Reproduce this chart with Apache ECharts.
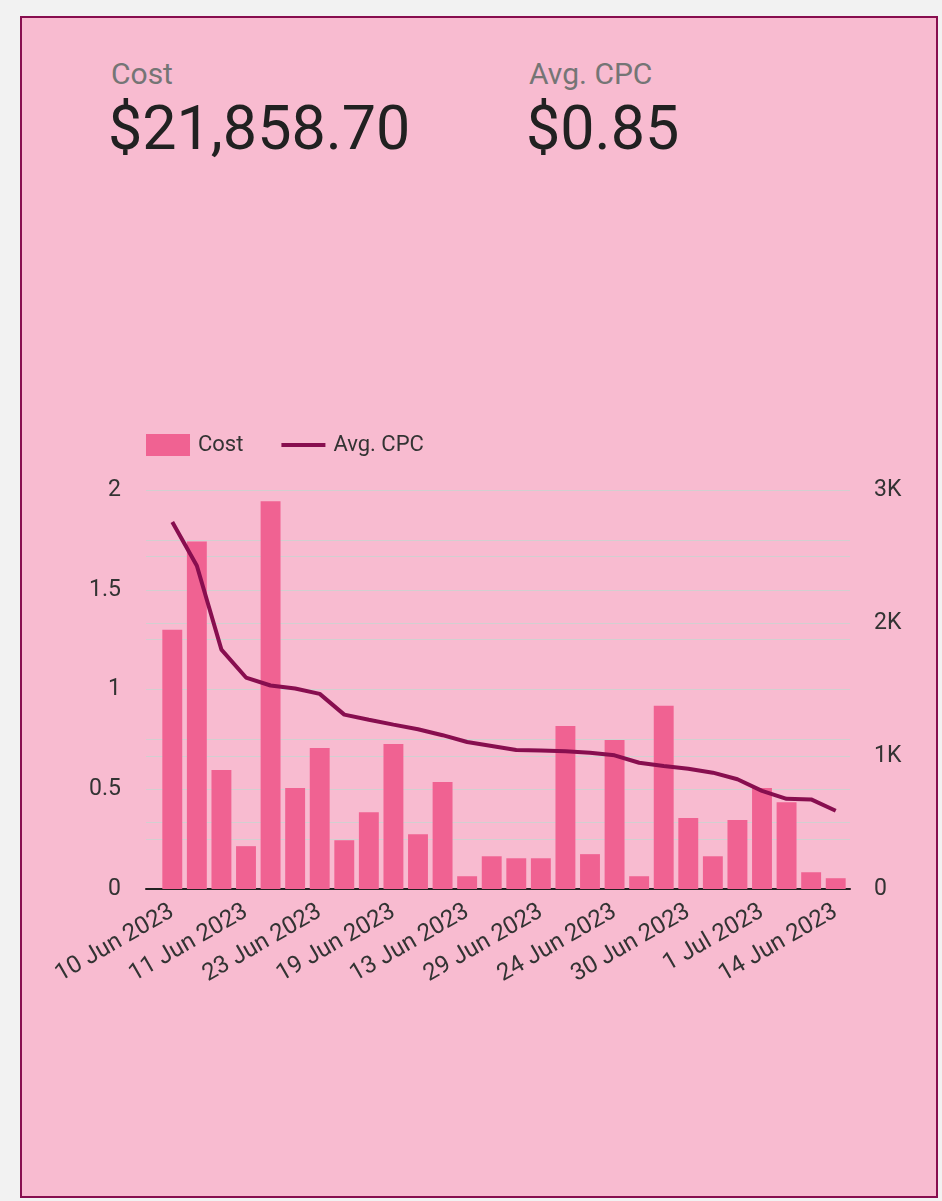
<!DOCTYPE html>
<html>
<head>
<meta charset="UTF-8"/>
<title>Cost and Avg. CPC</title>
<script src="https://cdn.jsdelivr.net/npm/echarts@6/dist/echarts.min.js"></script>
<style>
    html, body { margin: 0; padding: 0; background: #f2f2f2; font-family: Roboto, sans-serif; }
    .page { position: relative; width: 942px; height: 1201px; overflow: hidden; }
    .card { position: absolute; left: 20px; top: 16px; width: 914px; height: 1178px; background: #f8bbd0; border: 2px solid #880e4f; }
    .label { position: absolute; font-size: 30px; line-height: 1; color: #757575; white-space: nowrap; }
    .value { position: absolute; font-size: 61px; line-height: 1; color: #212121; white-space: nowrap; }
    #chart { position: absolute; left: 0; top: 0; width: 942px; height: 1201px; }
</style>
</head>
<body>
<div class="page">
    <div class="card"></div>
    <div class="label" style="left:111px;top:59px;">Cost</div>
    <div class="value" style="left:108px;top:98px;">$21,858.70</div>
    <div class="label" style="left:529px;top:59px;">Avg. CPC</div>
    <div class="value" style="left:526px;top:98px;">$0.85</div>
    <div id="chart"></div>
</div>
<script>
    // dates, sorted by Avg. CPC descending
    var days = ['10 Jun 2023', '5 Jun 2023', '8 Jun 2023', '11 Jun 2023', '3 Jun 2023', '7 Jun 2023',
        '23 Jun 2023', '6 Jun 2023', '9 Jun 2023', '19 Jun 2023', '12 Jun 2023', '20 Jun 2023',
        '13 Jun 2023', '4 Jun 2023', '2 Jun 2023', '29 Jun 2023', '21 Jun 2023', '16 Jun 2023',
        '24 Jun 2023', '1 Jun 2023', '22 Jun 2023', '30 Jun 2023', '15 Jun 2023', '26 Jun 2023',
        '1 Jul 2023', '27 Jun 2023', '28 Jun 2023', '14 Jun 2023'];
    var cost = [1950, 2613, 895, 322, 2915, 759, 1060, 367, 578, 1091, 412, 804,
        96, 246, 231, 231, 1226, 262, 1121, 96, 1377, 533, 246, 518, 759, 653, 126, 81];
    var avgCpc = [1.84, 1.62, 1.20, 1.06, 1.02, 1.005, 0.978, 0.874, 0.848, 0.824, 0.801, 0.771,
        0.737, 0.717, 0.697, 0.694, 0.690, 0.683, 0.670, 0.633, 0.617, 0.603, 0.583, 0.550,
        0.492, 0.452, 0.449, 0.392];

    var chart = echarts.init(document.getElementById('chart'));
    var font = 'Roboto';
    var gridColor = '#d2cfd0';
    var textColor = '#333';

    function hiddenAxis(extra) {
        var a = { show: false };
        for (var k in extra) a[k] = extra[k];
        return a;
    }

    chart.setOption({
        textStyle: { fontFamily: font },
        animation: false,
        legend: {
            left: 146,
            top: 434,
            padding: 0,
            itemWidth: 44,
            itemHeight: 22,
            itemGap: 38,
            textStyle: { fontSize: 22, color: textColor, fontFamily: font, padding: [2, 0, 0, 3] },
            data: [
                { name: 'Cost', icon: 'rect' },
                { name: 'Avg. CPC', icon: 'path://M0,0 L44,0 L44,4 L0,4 Z' }
            ]
        },
        // grid 0 carries the frame (gridlines, axis line, value labels),
        // grid 1 carries the data, inset a little from the frame
        grid: [
            { left: 146, right: 92, top: 490, bottom: 312 },
            { left: 160, right: 94, top: 490, bottom: 312 }
        ],
        xAxis: [{
            type: 'value',
            gridIndex: 0,
            min: 0,
            max: 1,
            axisLine: { show: true, onZero: false, lineStyle: { color: '#212121', width: 2 } },
            axisTick: { show: false },
            axisLabel: { show: false },
            splitLine: { show: false }
        }, {
            type: 'category',
            gridIndex: 1,
            data: days,
            axisLine: { show: false },
            axisTick: { show: false },
            axisLabel: {
                interval: 2,
                rotate: 30,
                margin: 21,
                fontSize: 24,
                color: textColor,
                fontFamily: font
            }
        }],
        yAxis: [{
            type: 'value',
            gridIndex: 0,
            min: 0,
            max: 2,
            interval: 0.25,
            axisLine: { show: false },
            axisTick: { show: false },
            splitLine: { lineStyle: { color: gridColor, width: 1 } },
            axisLabel: {
                margin: 25,
                fontSize: 23,
                color: textColor,
                fontFamily: font,
                formatter: function (v) { return Math.round(v * 100) % 50 === 0 ? String(v) : ''; }
            }
        }, {
            type: 'value',
            gridIndex: 0,
            position: 'right',
            min: 0,
            max: 3000,
            interval: 500,
            axisLine: { show: false },
            axisTick: { show: false },
            splitLine: { lineStyle: { color: gridColor, width: 1 } },
            axisLabel: {
                margin: 24,
                fontSize: 23,
                color: textColor,
                fontFamily: font,
                formatter: function (v) {
                    if (v % 1000 !== 0) return '';
                    return v === 0 ? '0' : (v / 1000) + 'K';
                }
            }
        },
        hiddenAxis({ type: 'value', gridIndex: 1, min: 0, max: 2 }),
        hiddenAxis({ type: 'value', gridIndex: 1, position: 'right', min: 0, max: 3000 })
        ],
        series: [{
            name: 'Cost',
            type: 'bar',
            xAxisIndex: 1,
            yAxisIndex: 3,
            data: cost,
            barCategoryGap: '19%',
            itemStyle: { color: '#f06292' }
        }, {
            name: 'Avg. CPC',
            type: 'line',
            xAxisIndex: 1,
            yAxisIndex: 2,
            data: avgCpc,
            symbol: 'none',
            lineStyle: { color: '#880e4f', width: 4 },
            itemStyle: { color: '#880e4f' }
        }]
    });
</script>
</body>
</html>
